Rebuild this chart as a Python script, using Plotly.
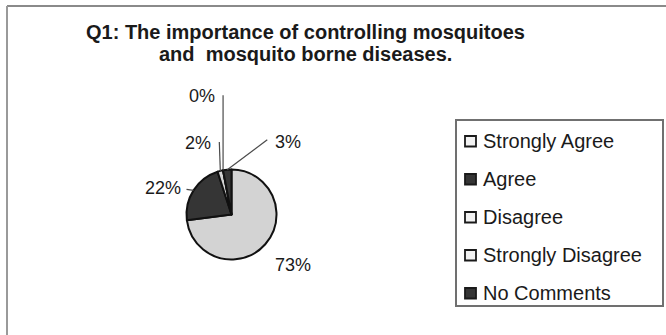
import math
import plotly.graph_objects as go

# Survey responses for Q1
categories = ["Strongly Agree", "Agree", "Disagree", "Strongly Disagree", "No Comments"]
percentages = [73, 22, 2, 0, 3]
label_texts = ["73%", "22%", "2%", "0%", "3%"]
title_lines = ["Q1: The importance of controlling mosquitoes", "and  mosquito borne diseases."]

W, H = 666, 335
LIGHT = "#d3d3d3"
DARK = "#353535"
slice_colors = [LIGHT, DARK, LIGHT, LIGHT, DARK]
legend_fills = ["#f2f2f2", DARK, "#f2f2f2", "#f2f2f2", DARK]
FONT = "Liberation Sans, Arial"
INK = "#1a1a1a"

# pie geometry in pixels
cx, cy, r = 231.5, 214.5, 45

# label placement relative to each slice's outer edge point (px), plus optional leader line
label_style = {
    "Strongly Agree": dict(pos=(293, 265), line=None),
    "Agree": dict(pos=(-31, -2), line=(-7, -1)),
    "Disagree": dict(pos=(-22, -28), line=(-1, -29)),
    "Strongly Disagree": dict(pos=(-21, -74), line=(0, -75)),
    "No Comments": dict(pos=(61, -28), line=(40, -30)),
}

fig = go.Figure()

fig.add_trace(go.Pie(
    labels=categories,
    values=percentages,
    sort=False,
    direction="clockwise",
    rotation=0,
    textinfo="none",
    hoverinfo="label+percent",
    marker=dict(colors=slice_colors, line=dict(color="#111111", width=2)),
    showlegend=False,
    domain=dict(x=[(cx - r) / W, (cx + r) / W], y=[(H - cy - r) / H, (H - cy + r) / H]),
))

# invisible pixel-space axes for annotations and shapes
fig.add_trace(go.Scatter(x=[0, W], y=[0, H], mode="markers", marker=dict(opacity=0),
                         hoverinfo="skip", showlegend=False))

annotations = []
shapes = []
total = sum(percentages)
cum = 0
for cat, val, txt in zip(categories, percentages, label_texts):
    mid = (cum + val / 2) / total * 2 * math.pi
    cum += val
    ex = cx + r * math.sin(mid)
    ey = cy - r * math.cos(mid)
    st = label_style[cat]
    if cat == "Strongly Agree":
        lx, ly = st["pos"]
    else:
        lx, ly = ex + st["pos"][0], ey + st["pos"][1]
    if st["line"] is not None:
        shapes.append(dict(type="line", xref="x", yref="y", x0=ex, y0=ey,
                           x1=ex + st["line"][0], y1=ey + st["line"][1],
                           line=dict(color="#4a4a4a", width=1.2)))
    annotations.append(dict(x=lx, y=ly, xref="x", yref="y", text=txt, showarrow=False,
                            font=dict(family=FONT, size=18, color=INK),
                            xanchor="center", yanchor="middle"))

# legend box
lg_x0, lg_y0, lg_x1, lg_y1 = 456, 120, 663, 306
shapes.append(dict(type="rect", xref="x", yref="y", x0=lg_x0, y0=lg_y0, x1=lg_x1, y1=lg_y1,
                   line=dict(color="#707070", width=2), fillcolor="rgba(0,0,0,0)"))
row_y0, row_step = 141, 38
for i, (cat, fc) in enumerate(zip(categories, legend_fills)):
    yy = row_y0 + i * row_step
    shapes.append(dict(type="rect", xref="x", yref="y", x0=465, y0=yy - 5, x1=476, y1=yy + 5.5,
                       line=dict(color="#1a1a1a", width=1.8), fillcolor=fc))
    annotations.append(dict(x=481, y=yy, xref="x", yref="y", text=cat, showarrow=False,
                            font=dict(family=FONT, size=20, color=INK),
                            xanchor="left", yanchor="middle"))

# outer frame (top and left edges)
shapes.append(dict(type="line", xref="x", yref="y", x0=7, y0=6, x1=W, y1=6,
                   line=dict(color="#8a8a8a", width=2)))
shapes.append(dict(type="line", xref="x", yref="y", x0=7, y0=6, x1=7, y1=H,
                   line=dict(color="#9a9a9a", width=2)))

# two-line title
for line_text, ty in zip(title_lines, [32, 54]):
    annotations.append(dict(x=305, y=ty, xref="x", yref="y", text="<b>" + line_text + "</b>",
                            showarrow=False, font=dict(family=FONT, size=20, color=INK),
                            xanchor="center", yanchor="middle"))

fig.update_layout(
    width=W, height=H,
    margin=dict(l=0, r=0, t=0, b=0),
    paper_bgcolor="white", plot_bgcolor="rgba(0,0,0,0)",
    xaxis=dict(range=[0, W], visible=False, fixedrange=True),
    yaxis=dict(range=[H, 0], visible=False, fixedrange=True),
    shapes=shapes, annotations=annotations,
    showlegend=False,
)

fig.write_html("out.html")
